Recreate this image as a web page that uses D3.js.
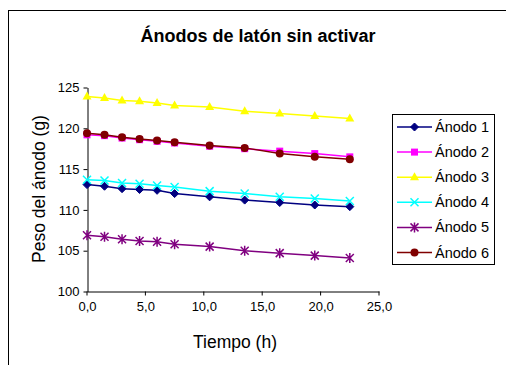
<!DOCTYPE html>
<html><head><meta charset="utf-8">
<script src="https://cdn.jsdelivr.net/npm/d3@7"></script>
<style>body{margin:0;background:#fff}svg{display:block}text{font-family:"Liberation Sans",Arial,sans-serif}</style>
</head><body>
<svg id="c" width="506" height="365"></svg>
<script>
const times = [0, 1.5, 3, 4.5, 6, 7.5, 10.5, 13.5, 16.5, 19.5, 22.5];
const anodo1 = [113.1, 112.9, 112.6, 112.5, 112.4, 112.0, 111.6, 111.2, 110.9, 110.6, 110.4];
const anodo2 = [119.2, 119.1, 118.8, 118.6, 118.4, 118.2, 117.8, 117.5, 117.2, 116.9, 116.5];
const anodo3 = [123.9, 123.7, 123.4, 123.3, 123.1, 122.8, 122.6, 122.1, 121.8, 121.5, 121.2];
const anodo4 = [113.7, 113.6, 113.3, 113.2, 113.0, 112.8, 112.3, 112.0, 111.6, 111.4, 111.1];
const anodo5 = [106.9, 106.7, 106.4, 106.2, 106.1, 105.8, 105.5, 105.0, 104.7, 104.4, 104.1];
const anodo6 = [119.4, 119.2, 118.9, 118.7, 118.5, 118.3, 117.9, 117.6, 116.9, 116.5, 116.2];
const seriesNames = ["Ánodo 1", "Ánodo 2", "Ánodo 3", "Ánodo 4", "Ánodo 5", "Ánodo 6"];
const seriesValues = [anodo1, anodo2, anodo3, anodo4, anodo5, anodo6];
const seriesColors = ["#000080", "#FF00FF", "#FFFF00", "#00FFFF", "#800080", "#800000"];
const seriesMarkers = ["diamond", "square", "triangle", "x", "star", "circle"];
const xTicks = [0, 5, 10, 15, 20, 25];
const yTicks = [100, 105, 110, 115, 120, 125];
const titleText = "Ánodos de latón sin activar";
const xLabel = "Tiempo (h)";
const yLabel = "Peso del ánodo (g)";

const svg = d3.select("#c");
svg.append("rect").attr("x", 8.5).attr("y", 10.5).attr("width", 520).attr("height", 380)
  .attr("fill", "#fff").attr("stroke", "#000").attr("stroke-width", 1);

const x = d3.scaleLinear().domain([0, 25]).range([87, 379]);
const y = d3.scaleLinear().domain([100, 125]).range([291.5, 87.5]);

svg.append("text").attr("x", 258).attr("y", 42).attr("text-anchor", "middle")
  .attr("font-size", 18).attr("font-weight", "bold").text(titleText);

const fmt = d => d3.format(".1f")(d).replace(".", ",");
const xAxis = svg.append("g").attr("transform", "translate(0,291.5)")
  .call(d3.axisBottom(x).tickValues(xTicks).tickFormat(fmt).tickSize(4).tickSizeOuter(0).tickPadding(6));
const yAxis = svg.append("g").attr("transform", "translate(87.5,0)")
  .call(d3.axisLeft(y).tickValues(yTicks).tickFormat(d3.format("d")).tickSize(4).tickSizeOuter(0).tickPadding(4));
[xAxis, yAxis].forEach(a => {
  a.selectAll("text").attr("font-size", 13).attr("fill", "#000").attr("font-family", '"Liberation Sans",Arial,sans-serif');
  a.selectAll("line,path").attr("stroke", "#000");
});
xAxis.selectAll("line").attr("transform", "translate(-0.5,0)");
xAxis.selectAll("text").attr("dy", "0.71em");

svg.append("text").attr("x", 235).attr("y", 348).attr("text-anchor", "middle")
  .attr("font-size", 17.5).text(xLabel);
svg.append("text").attr("transform", "translate(45,189) rotate(-90)").attr("text-anchor", "middle")
  .attr("font-size", 17.5).text(yLabel);

function marker(g, type, color, cx, cy) {
  if (type === "diamond") {
    g.append("path").attr("d", `M${cx},${cy-4}L${cx+4},${cy}L${cx},${cy+4}L${cx-4},${cy}Z`).attr("fill", color).attr("stroke", color);
  } else if (type === "square") {
    g.append("rect").attr("x", cx-3.5).attr("y", cy-3.5).attr("width", 7).attr("height", 7).attr("fill", color);
  } else if (type === "triangle") {
    g.append("path").attr("d", `M${cx},${cy-5}L${cx+4.5},${cy+3}L${cx-4.5},${cy+3}Z`).attr("fill", color);
  } else if (type === "circle") {
    g.append("circle").attr("cx", cx).attr("cy", cy).attr("r", 4).attr("fill", color);
  } else if (type === "x") {
    g.append("path").attr("d", `M${cx-4},${cy-4}L${cx+4},${cy+4}M${cx-4},${cy+4}L${cx+4},${cy-4}`).attr("stroke", color).attr("stroke-width", 1.5);
  } else if (type === "star") {
    g.append("path").attr("d", `M${cx-4},${cy-4}L${cx+4},${cy+4}M${cx-4},${cy+4}L${cx+4},${cy-4}M${cx},${cy-5}L${cx},${cy+5}`).attr("stroke", color).attr("stroke-width", 1.5);
  }
}

const line = d3.line().x((d, i) => x(times[i])).y(d => y(d));
seriesValues.forEach((vals, si) => {
  const g = svg.append("g");
  g.append("path").attr("d", line(vals)).attr("fill", "none").attr("stroke", seriesColors[si]).attr("stroke-width", 1.5);
  vals.forEach((v, i) => marker(g, seriesMarkers[si], seriesColors[si], x(times[i]), y(v)));
});

// legend
const lg = svg.append("g");
lg.append("rect").attr("x", 392.5).attr("y", 114.5).attr("width", 102).attr("height", 150)
  .attr("fill", "#fff").attr("stroke", "#000").attr("stroke-width", 1);
seriesNames.forEach((n, i) => {
  const yy = 127 + i * 25.1;
  lg.append("line").attr("x1", 397).attr("x2", 432).attr("y1", yy).attr("y2", yy)
    .attr("stroke", seriesColors[i]).attr("stroke-width", 1.5);
  marker(lg, seriesMarkers[i], seriesColors[i], 414.5, yy);
  lg.append("text").attr("x", 435).attr("y", yy + 5).attr("font-size", 14.5).text(n);
});
</script>
</body></html>
